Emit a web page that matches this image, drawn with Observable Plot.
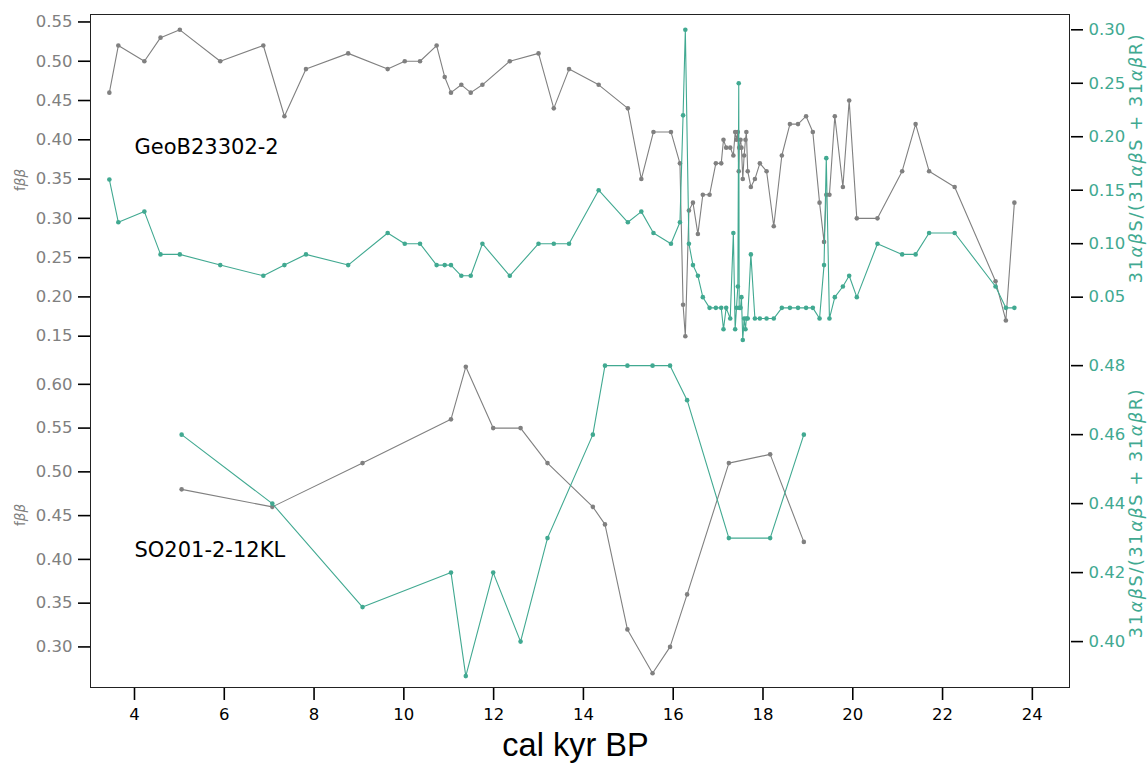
<!DOCTYPE html>
<html><head><meta charset="utf-8">
<script src="https://cdn.jsdelivr.net/npm/d3@7"></script>
<script src="https://cdn.jsdelivr.net/npm/@observablehq/plot@0.6"></script>
<style>
body{margin:0;background:#fff;}
#wrap{position:relative;width:1148px;height:763px;overflow:hidden;background:#fff;}
#wrap svg{position:absolute;left:0;}
#frame{position:absolute;left:90px;top:14px;width:980px;height:674px;box-sizing:border-box;border:1.3px solid #222;pointer-events:none;}
</style></head><body><div id="wrap"><div id="frame"></div></div>
<script>
// ---- data: GeoB23302-2 ----
const geoAge = [3.44,3.64,4.22,4.58,5.01,5.91,6.87,7.34,7.82,8.76,
  9.64,10.02,10.36,10.73,10.91,11.05,11.28,11.49,11.75,12.36,
  13.00,13.34,13.68,14.34,14.99,15.29,15.56,15.95,16.15,16.22,
  16.27,16.35,16.44,16.55,16.66,16.81,16.95,17.07,17.12,17.18,
  17.27,17.34,17.38,17.41,17.44,17.46,17.47,17.50,17.52,17.55,
  17.58,17.61,17.63,17.66,17.73,17.82,17.93,18.08,18.24,18.42,
  18.60,18.78,18.96,19.11,19.26,19.36,19.41,19.48,19.60,19.78,
  19.92,20.09,20.55,21.10,21.40,21.70,22.27,23.18,23.41,23.60];
const geoFbb = [0.46,0.52,0.50,0.53,0.54,0.50,0.52,0.43,0.49,0.51,
  0.49,0.50,0.50,0.52,0.48,0.46,0.47,0.46,0.47,0.50,
  0.51,0.44,0.49,0.47,0.44,0.35,0.41,0.41,0.37,0.19,
  0.15,0.31,0.32,0.28,0.33,0.33,0.37,0.37,0.40,0.39,
  0.39,0.38,0.41,0.40,0.41,0.36,0.39,0.40,0.39,0.35,
  0.38,0.40,0.41,0.36,0.34,0.35,0.37,0.36,0.29,0.38,
  0.42,0.42,0.43,0.41,0.32,0.27,0.33,0.33,0.43,0.34,
  0.45,0.30,0.30,0.36,0.42,0.36,0.34,0.22,0.17,0.32];
const geoRatio = [0.16,0.12,0.13,0.09,0.09,0.08,0.07,0.08,0.09,0.08,
  0.11,0.10,0.10,0.08,0.08,0.08,0.07,0.07,0.10,0.07,
  0.10,0.10,0.10,0.15,0.12,0.13,0.11,0.10,0.12,0.22,
  0.30,0.10,0.08,0.07,0.05,0.04,0.04,0.04,0.02,0.04,
  0.03,0.11,0.02,0.04,0.06,0.25,0.04,0.04,0.05,0.01,
  0.03,0.02,0.03,0.03,0.09,0.03,0.03,0.03,0.03,0.04,
  0.04,0.04,0.04,0.04,0.03,0.08,0.18,0.03,0.05,0.06,
  0.07,0.05,0.10,0.09,0.09,0.11,0.11,0.06,0.04,0.04];
// ---- data: SO201-2-12KL ----
const soAge = [5.05,7.07,9.08,11.05,11.38,11.99,12.60,13.20,14.21,14.48,14.98,15.54,15.93,16.31,17.24,18.16,18.91];
const soFbb = [0.48,0.46,0.51,0.56,0.62,0.55,0.55,0.51,0.46,0.44,0.32,0.27,0.30,0.36,0.51,0.52,0.42];
const soRatio = [0.46,0.44,0.41,0.42,0.39,0.42,0.40,0.43,0.46,0.48,0.48,0.48,0.48,0.47,0.43,0.43,0.46];
// ---- ticks & labels ----
const xTicks = [4,6,8,10,12,14,16,18,20,22,24];
const geoFbbTicks = [0.15,0.20,0.25,0.30,0.35,0.40,0.45,0.50,0.55];
const geoRatioTicks = [0.05,0.10,0.15,0.20,0.25,0.30];
const soFbbTicks = [0.30,0.35,0.40,0.45,0.50,0.55,0.60];
const soRatioTicks = [0.40,0.42,0.44,0.46,0.48];
const geoLabel = [{age:4, v:0.39, name:"GeoB23302-2"}];
const soLabel = [{age:4, v:0.41, name:"SO201-2-12KL"}];
const leftTitle = "fββ";
const rightTitle = "31αβS/(31αβS + 31αβR)";
const xTitle = "cal kyr BP";

const GRAY = "#808080", TEAL = "#41a991";
const geo = geoAge.map((a,i)=>({age:a, fbb:geoFbb[i], ratio:geoRatio[i]}));
const so = soAge.map((a,i)=>({age:a, fbb:soFbb[i], ratio:soRatio[i]}));

const W = 1148, ML = 90, MR = 78;
const xDomain = [3.02, 24.85];
const baseStyle = {background:"transparent", fontFamily:"DejaVu Sans", fontSize:"16.5px", overflow:"visible"};
const fmt2 = d3.format(".2f");

function layer({top, height, mt, mb, yDomain, marks, xAxis}) {
  const svg = Plot.plot({
    width: W, height, marginTop: mt, marginBottom: mb, marginLeft: ML, marginRight: MR,
    x: {domain: xDomain, axis: xAxis ? undefined : null},
    y: {domain: yDomain},
    style: baseStyle,
    marks
  });
  svg.style.top = top + "px";
  document.getElementById("wrap").appendChild(svg);
  svg.querySelectorAll("text").forEach(t => {
    const s = t.textContent;
    if (!/[αβ]/.test(s) || t.querySelector("tspan")) return;
    t.textContent = "";
    if (s.length > 5) t.setAttribute("letter-spacing", "1.7");
    for (const part of s.split(/([αβ]+)/)) {
      if (!part) continue;
      const ts = document.createElementNS("http://www.w3.org/2000/svg", "tspan");
      ts.textContent = part;
      if (/[αβ]/.test(part)) ts.setAttribute("font-style", "italic");
      t.appendChild(ts);
    }
  });
}

function series(data, key, color) {
  return [
    Plot.line(data, {x:"age", y:key, stroke:color, strokeWidth:1.1}),
    Plot.dot(data, {x:"age", y:key, r:2.3, fill:color, stroke:null})
  ];
}
function leftAxis(ticks) {
  return Plot.axisY(ticks, {anchor:"left", tickSize:12, tickPadding:6, tickFormat:fmt2, stroke:"#000", strokeWidth:1.6, fill:GRAY, label:null});
}
function rightAxis(ticks) {
  return Plot.axisY(ticks, {anchor:"right", tickSize:12, tickPadding:6, tickFormat:fmt2, stroke:"#000", strokeWidth:1.6, fill:TEAL, label:null});
}

// top panel (GeoB23302-2)
layer({top:0, height:351, mt:14, mb:0, yDomain:[0.1305, 0.5595], marks:[
  leftAxis(geoFbbTicks),
  ...series(geo, "fbb", GRAY),
  Plot.text(geoLabel, {x:"age", y:"v", text:"name", textAnchor:"start", fontSize:21, fill:"#000"}),
  Plot.text([leftTitle], {text:d=>d, frameAnchor:"left", textAnchor:"middle", lineAnchor:"middle", dx:-70, dy:-3, rotate:-90, fontSize:13.5, fill:GRAY})
]});
layer({top:0, height:351, mt:14, mb:0, yDomain:[-0.0008, 0.3143], marks:[
  rightAxis(geoRatioTicks),
  ...series(geo, "ratio", TEAL),
  Plot.text([rightTitle], {text:d=>d, frameAnchor:"right", textAnchor:"middle", lineAnchor:"middle", dx:66, dy:-25, rotate:-90, fontSize:17.5, fill:TEAL})
]});
// bottom panel (SO201-2-12KL)
layer({top:351, height:412, mt:0, mb:75, yDomain:[0.2525, 0.6375], xAxis:true, marks:[
  leftAxis(soFbbTicks),
  Plot.axisX(xTicks, {tickSize:12, tickPadding:8, stroke:"#000", strokeWidth:1.6, fill:"#000", tickFormat:d=>String(d), label:null}),
  ...series(so, "fbb", GRAY),
  Plot.text(soLabel, {x:"age", y:"v", text:"name", textAnchor:"start", fontSize:21, fill:"#000"}),
  Plot.text([leftTitle], {text:d=>d, frameAnchor:"left", textAnchor:"middle", lineAnchor:"middle", dx:-70, dy:-5, rotate:-90, fontSize:13.5, fill:GRAY}),
  Plot.text([xTitle], {text:d=>d, frameAnchor:"bottom", textAnchor:"middle", lineAnchor:"middle", dx:-5, dy:57, fontSize:32.5, fill:"#000", fontFamily:"Liberation Sans"})
]});
layer({top:351, height:412, mt:0, mb:75, yDomain:[0.3864, 0.4841], marks:[
  rightAxis(soRatioTicks),
  ...series(so, "ratio", TEAL),
  Plot.text([rightTitle], {text:d=>d, frameAnchor:"right", textAnchor:"middle", lineAnchor:"middle", dx:66, dy:-7, rotate:-90, fontSize:17.5, fill:TEAL})
]});
document.getElementById("wrap").appendChild(document.getElementById("frame"));
</script></body></html>
